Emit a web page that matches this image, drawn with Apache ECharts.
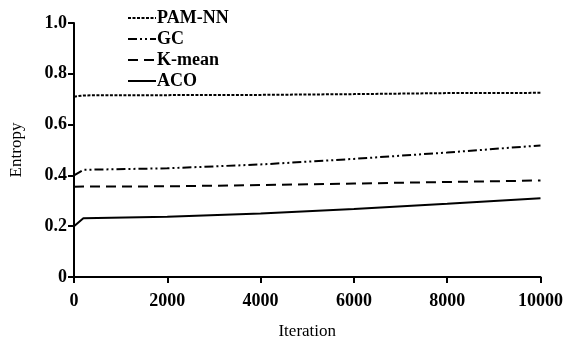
<!DOCTYPE html>
<html><head><meta charset="utf-8">
<script src="https://cdn.jsdelivr.net/npm/echarts@6/dist/echarts.min.js"></script>
<style>html,body{margin:0;padding:0;background:#fff}#c{width:566px;height:345px}</style>
</head><body><div id="c"></div>
<script>
const seriesNames = ['PAM-NN', 'GC', 'K-mean', 'ACO'];
const iterPam = [0, 200, 2000, 4000, 6000, 8000, 10000];
const pamValues = [0.71, 0.715, 0.716, 0.717, 0.72, 0.724, 0.725];
const iterGc = [0, 200, 2000, 4000, 6000, 8000, 10000];
const gcValues = [0.40, 0.422, 0.428, 0.443, 0.465, 0.49, 0.518];
const iterKm = [0, 200, 2000, 4000, 6000, 8000, 10000];
const kmValues = [0.355, 0.356, 0.357, 0.362, 0.368, 0.374, 0.38];
const iterAco = [0, 200, 2000, 4000, 6000, 8000, 10000];
const acoValues = [0.2, 0.231, 0.237, 0.25, 0.268, 0.288, 0.31];
const xTicks = [0, 2000, 4000, 6000, 8000, 10000];
const yTicks = [0, 0.2, 0.4, 0.6, 0.8, 1.0];

function pairs(xs, ys){ return xs.map((x,i)=>[x, ys[i]]); }
const font = 'Liberation Serif';
const styles = [
  {type:[3,1.5], width:2},
  {type:[9,3,2,3,2,3], width:2},
  {type:[10,6], width:2},
  {type:'solid', width:2}
];
const datas = [pairs(iterPam,pamValues), pairs(iterGc,gcValues), pairs(iterKm,kmValues), pairs(iterAco,acoValues)];
const chart = echarts.init(document.getElementById('c'));
chart.setOption({
  animation:false,
  grid:{left:74, right:22, top:23, bottom:67},
  legend:{
    orient:'vertical', left:122, top:4, itemGap:3, itemWidth:28, itemHeight:18,
    data:seriesNames,
    itemStyle:{opacity:0},
    textStyle:{fontFamily:font, fontSize:18, fontWeight:'bold', color:'#000', padding:[0,0,0,-4]}
  },
  xAxis:{
    type:'value', min:0, max:10000, interval:2000,
    name:'Iteration', nameLocation:'middle', nameGap:46,
    nameTextStyle:{fontFamily:font, fontSize:17, fontWeight:'normal', color:'#000'},
    axisLine:{lineStyle:{color:'#000', width:2}},
    axisTick:{show:true, length:6, lineStyle:{color:'#000', width:2}},
    axisLabel:{fontFamily:font, fontSize:18, fontWeight:'bold', color:'#000', margin:15,
      formatter:v=>String(v)},
    splitLine:{show:false}
  },
  yAxis:{
    type:'value', min:0, max:1, interval:0.2,
    name:'Entropy', nameLocation:'middle', nameGap:49, nameRotate:90,
    nameTextStyle:{fontFamily:font, fontSize:17, fontWeight:'normal', color:'#000'},
    axisLine:{show:true, lineStyle:{color:'#000', width:2}},
    axisTick:{show:true, length:6, lineStyle:{color:'#000', width:2}},
    axisLabel:{fontFamily:font, fontSize:18, fontWeight:'bold', color:'#000', margin:7,
      formatter:v=> v===0 ? '0' : v.toFixed(1)},
    splitLine:{show:false}
  },
  series: seriesNames.map((n,i)=>({
    name:n, type:'line', data:datas[i], showSymbol:false, symbol:'none',
    lineStyle:{color:'#000', width:styles[i].width, type:styles[i].type},
    itemStyle:{color:'#000'}
  }))
});
</script></body></html>
